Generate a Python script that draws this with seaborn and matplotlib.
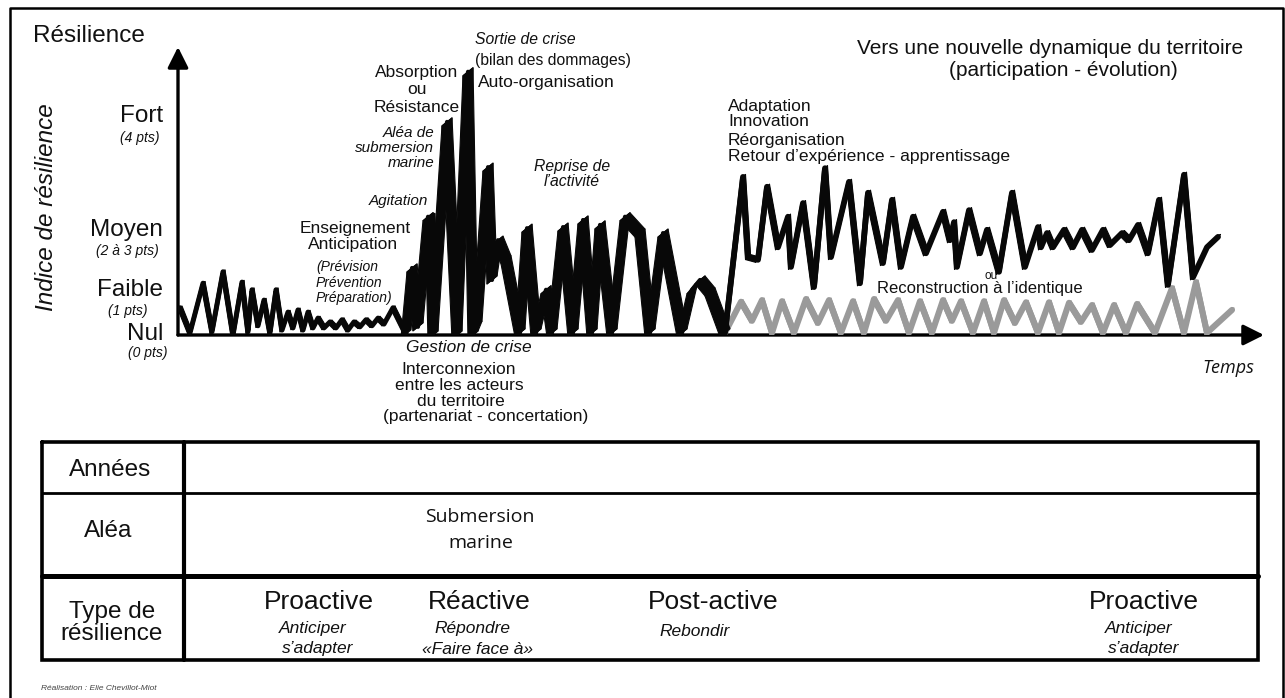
import numpy as np
import matplotlib
matplotlib.use("Agg")
import matplotlib.pyplot as plt
from matplotlib.collections import PolyCollection
import seaborn as sns

# time (arbitrary units) and resilience index (pts) of each phase
t_calm = [2, 12, 25, 34, 45, 55, 64, 70, 74, 80, 86, 92, 98, 104, 110, 115, 120, 125, 130, 135,
          140, 146, 152, 158, 164, 170, 176, 182, 188, 194, 200, 206, 215, 228]
r_calm = [0.50, 0.04, 0.95, 0.06, 1.16, 0.00, 0.97, 0.06, 0.83, 0.17, 0.64, 0.04, 0.83, 0.09, 0.42,
          0.13, 0.46, 0.09, 0.42, 0.13, 0.31, 0.13, 0.24, 0.13, 0.28, 0.09, 0.24, 0.15, 0.28, 0.17,
          0.31, 0.20, 0.50, 0.02]

t_crise = [228, 234, 240, 250, 252, 255, 269, 279, 290, 295, 299, 310, 314, 320, 328, 342, 349, 358,
           368, 374, 385, 395, 405, 414, 422, 434, 447, 462, 472, 485, 504, 514, 522, 532, 547]
r_crise = [0.02, 1.23, 0.15, 2.17, 2.15, 0.00, 3.91, 0.00, 4.83, 0.00, 0.18, 3.08, 1.01, 1.74, 1.38,
           0.04, 1.96, 0.04, 0.83, 0.04, 1.98, 0.04, 2.11, 0.04, 2.02, 0.04, 2.17, 1.87, 0.04, 1.87,
           0.04, 0.83, 1.01, 0.79, 0.04]

t_post = [547, 565, 570, 580, 589, 600, 610, 613, 625, 636, 647, 653, 671, 682, 690, 705, 714, 723,
          735, 748, 765, 772, 776, 779, 791, 802, 809, 821, 834, 847, 860, 863, 869, 875, 886, 895,
          904, 914, 925, 932, 944, 951, 960, 970, 981, 990, 1006, 1015, 1029, 1040]
r_post = [0.04, 2.90, 1.43, 1.38, 2.72, 1.61, 2.17, 1.25, 2.42, 0.88, 3.06, 1.43, 2.81, 0.95, 2.61,
          1.32, 2.48, 1.25, 2.17, 1.50, 2.26, 1.74, 2.07, 1.25, 2.29, 1.50, 1.93, 1.16, 2.61, 1.25,
          1.98, 1.61, 1.87, 1.61, 1.93, 1.61, 1.93, 1.56, 1.93, 1.65, 1.87, 1.74, 2.02, 1.50, 2.48,
          0.92, 2.94, 1.06, 1.61, 1.80]

# "reconstruction à l'identique" path
t_ident = [547, 563, 574, 584, 594, 604, 616, 628, 640, 651, 663, 675, 686, 696, 708, 720, 731, 742,
           754, 765, 774, 783, 795, 806, 816, 826, 837, 848, 860, 871, 881, 891, 903, 914, 925, 936,
           948, 959, 977, 994, 1006, 1018, 1029, 1054]
r_ident = [0.04, 0.61, 0.26, 0.64, 0.04, 0.62, 0.04, 0.66, 0.22, 0.64, 0.04, 0.62, 0.04, 0.66, 0.26,
           0.64, 0.04, 0.62, 0.04, 0.64, 0.26, 0.62, 0.04, 0.62, 0.04, 0.64, 0.22, 0.60, 0.04, 0.60,
           0.04, 0.59, 0.24, 0.55, 0.04, 0.55, 0.04, 0.57, 0.04, 0.86, 0.04, 0.97, 0.04, 0.46]

levels = ["Fort", "Moyen", "Faible", "Nul"]
level_pts = ["(4 pts)", "(2 à 3 pts)", "(1 pts)", "(0 pts)"]
row_labels = ["Années", "Aléa", "Type de\nrésilience"]
types = ["Proactive", "Réactive", "Post-active", "Proactive"]
type_verbs = ["Anticiper", "Répondre", "Rebondir", "Anticiper"]
type_verbs2 = ["s’adapter", "«Faire face à»", "", "s’adapter"]

sns.set_theme(style="white")
plt.rcParams["font.family"] = ["Liberation Sans", "DejaVu Sans"]

W, H = 1285, 698
fig = plt.figure(figsize=(W / 100, H / 100), dpi=100)

# overlay in pixel coordinates for frame, labels and table
ov = fig.add_axes([0, 0, 1, 1])
ov.set_xlim(0, W)
ov.set_ylim(H, 0)
ov.axis("off")

# chart axes: origin at pixel (178, 335)
x0, y0, top = 178, 335, 47
ax = fig.add_axes([x0 / W, (H - y0) / H, 1086 / W, (y0 - top) / H])
ax.set_xlim(0, 1086)
ax.set_ylim(0, (y0 - top) / 54.5)
ax.axis("off")


def brush(t, r, nib, lw, color):
    # flat-nib pen stroke: each segment swept by the nib vector (pixels)
    t = np.asarray(t, float)
    r = np.asarray(r, float)
    ux = np.diff(ax.get_xlim())[0] / ax.bbox.width
    uy = np.diff(ax.get_ylim())[0] / ax.bbox.height
    nx, ny = nib[0] * ux / 2, nib[1] * uy / 2
    quads = [[(t[i] - nx, r[i] - ny), (t[i + 1] - nx, r[i + 1] - ny),
              (t[i + 1] + nx, r[i + 1] + ny), (t[i] + nx, r[i] + ny)] for i in range(len(t) - 1)]
    ax.add_collection(PolyCollection(quads, facecolors=color, edgecolors=color, linewidths=0.8,
                                     zorder=3))
    sns.lineplot(x=t, y=r, ax=ax, color=color, lw=lw, sort=False, estimator=None,
                 solid_joinstyle="round", solid_capstyle="round", zorder=3)


brush(t_ident, r_ident, (4, 4), 4.4, "#9a9a9a")
brush(t_calm, r_calm, (4, 3.5), 3.6, "#080808")
brush(t_crise, r_crise, (10, 8), 3.0, "#080808")
brush(t_post, r_post, (5, 5), 4.2, "#080808")
ax.set_xlabel("")
ax.set_ylabel("")

arr = dict(arrowstyle="-|>,head_length=0.5,head_width=0.25", lw=2.4, color="black",
           mutation_scale=25, shrinkA=0, shrinkB=0)
ax.annotate("", xy=(0, 1), xytext=(0, 0), xycoords="axes fraction", arrowprops=arr, zorder=2)
ax.annotate("", xy=(1, 0), xytext=(0, 0), xycoords="axes fraction", arrowprops=arr, zorder=2)

# frame
ov.plot([10, 10, 1283, 1283], [H + 5, 8, 8, H + 5], color="black", lw=1.8)

ink = "#111111"


def txt(x, y, s, size, ha="center", style="normal", family=None, **kw):
    kw.setdefault("color", ink)
    if family:
        kw["family"] = family
    ov.text(x, y, s, fontsize=size, ha=ha, va="center", style=style, **kw)


txt(33, 36, "Résilience", 17.5, ha="left")
txt(47, 207, "Indice de résilience", 17.5, style="italic", rotation=90)

for lab, y in zip(levels, [116, 230, 290, 334]):
    txt(163, y, lab, 17.5, ha="right")
for lab, x, y in zip(level_pts, [160, 159, 147, 167], [138, 251, 311, 353]):
    txt(x, y, lab, 10, ha="right", style="italic")

# annotations along the curve
txt(355, 228, "Enseignement", 12.5)
txt(353, 245, "Anticipation", 12.5)
for s, y in zip(["(Prévision", "Prévention", "Préparation)"], [267, 283, 298]):
    txt(316, y, s, 10, ha="left", style="italic")
txt(428, 201, "Agitation", 11, ha="right", style="italic")
for s, y in zip(["Aléa de", "submersion", "marine"], [133, 148, 163]):
    txt(434, y, s, 11, ha="right", style="italic")
for s, y in zip(["Absorption", "ou", "Résistance"], [72, 89, 107]):
    txt(417, y, s, 12.5)
txt(475, 40, "Sortie de crise", 11.3, ha="left", style="italic")
txt(475, 60, "(bilan des dommages)", 11.3, ha="left")
txt(478, 82, "Auto-organisation", 12.5, ha="left")
txt(572, 166, "Reprise de", 11.3, style="italic")
txt(572, 181, "l’activité", 11.3, style="italic")
txt(469, 348, "Gestion de crise", 12.5, style="italic")
for s, x, y in zip(["Interconnexion", "entre les acteurs", "du territoire", "(partenariat - concertation)"],
                   [459, 459, 461, 486], [369, 385, 402, 417]):
    txt(x, y, s, 12.5)
txt(1050, 48, "Vers une nouvelle dynamique du territoire", 15)
txt(1063, 70, "(participation - évolution)", 15)
for s, y in zip(["Adaptation", "Innovation", "Réorganisation", "Retour d’expérience - apprentissage"],
                [106, 121, 141, 157]):
    txt(728, y, s, 12.6, ha="left")
txt(991, 276, "ou", 8.5)
txt(980, 289, "Reconstruction à l’identique", 12)
txt(1228, 368, "Temps", 13, style="italic", family=["Open Sans", "DejaVu Sans"])

# table
tl, tr, tt, tb, tc = 42, 1258, 442, 660, 184
ov.plot([tl, tr, tr, tl, tl], [tt, tt, tb, tb, tt], color="black", lw=2.6, solid_joinstyle="miter")
ov.plot([tc, tc], [tt, tb], color="black", lw=3)
ov.plot([tl, tr], [493, 493], color="black", lw=2)
ov.plot([tl, tr], [576, 576], color="black", lw=3.6)

txt(110, 470, row_labels[0], 17.5)
txt(108, 531, row_labels[1], 17.5)
txt(112, 623, row_labels[2], 17.5, linespacing=1.05)

txt(480, 517, "Submersion", 14, family=["Open Sans", "DejaVu Sans"])
txt(481, 543, "marine", 14, family=["Open Sans", "DejaVu Sans"])

for s, x in zip(types, [319, 479, 713, 1144]):
    txt(x, 602, s, 19)
for s, x in zip(type_verbs, [313, 472, 695, 1139]):
    txt(x, 628 if s != "Rebondir" else 631, s, 12.5, style="italic")
for s, x in zip(type_verbs2, [318, 477, 0, 1144]):
    if s:
        txt(x, 649, s, 12.5, style="italic")

txt(41, 688, "Réalisation : Elie Chevillot-Miot", 6, ha="left", style="italic", color="#444444")

fig.savefig("out.png", dpi=100)
